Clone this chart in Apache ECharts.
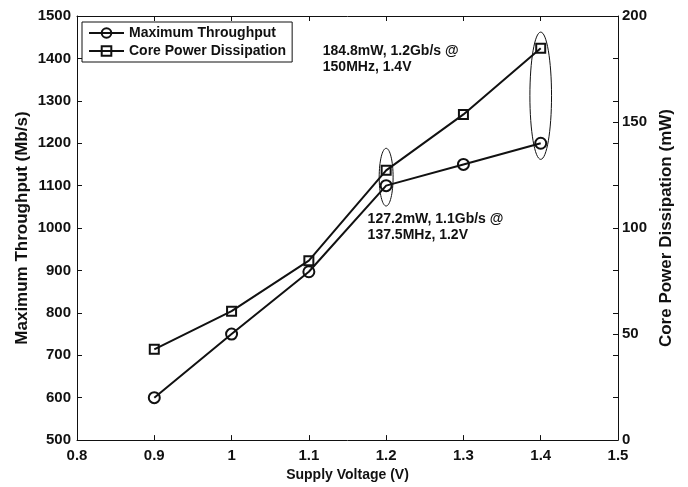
<!DOCTYPE html>
<html>
<head>
<meta charset="utf-8">
<script src="https://cdn.jsdelivr.net/npm/echarts@6/dist/echarts.min.js"></script>
<style>
  html, body { margin: 0; padding: 0; background: #fff; }
  #chart { width: 688px; height: 487px; }
</style>
</head>
<body>
<div id="chart"></div>
<script>
// data
const voltage = [0.9, 1.0, 1.1, 1.2, 1.3, 1.4];
const throughput = [600, 750, 897, 1100, 1150, 1200];   // Mb/s
const corePower = [42.8, 60.8, 84.6, 127.2, 153.6, 184.8]; // mW

// ellipse callouts: [x, centre on left axis, x half-width, y half-height on left axis]
const callouts = [
  [1.2, 1120, 0.009, 68],
  [1.4, 1312, 0.014, 150]
];
// notes: [text, x, top on left axis]
const notes = [
  ['184.8mW, 1.2Gb/s @\n150MHz, 1.4V', 1.118, 1436],
  ['127.2mW, 1.1Gb/s @\n137.5MHz, 1.2V', 1.176, 1040]
];

const FONT = 'Liberation Sans, Arial, sans-serif';
const INK = '#111';

const chart = echarts.init(document.getElementById('chart'));

const labelStyle = { color: INK, fontSize: 15, fontWeight: 'bold', fontFamily: FONT };
const nameStyle = { color: INK, fontSize: 14, fontWeight: 'bold', fontFamily: FONT };
const vNameStyle = { color: INK, fontSize: 17, fontWeight: 'bold', fontFamily: FONT };
const lineAx = { show: true, lineStyle: { color: INK, width: 1 } };
const tickIn = { show: true, inside: true, length: 5, lineStyle: { color: INK } };
const plain = v => String(v);

const option = {
  animation: false,
  backgroundColor: '#fff',
  grid: { left: 77, right: 70, top: 16, bottom: 45, containLabel: false },
  legend: {
    left: 82, top: 22, orient: 'vertical',
    padding: [4, 6, 4, 6],
    itemWidth: 35, itemHeight: 12, itemGap: 4,
    borderColor: INK, borderWidth: 1,
    backgroundColor: '#fff',
    textStyle: { color: INK, fontSize: 14, fontWeight: 'bold', fontFamily: FONT },
    data: ['Maximum Throughput', 'Core Power Dissipation']
  },
  xAxis: [
    {
      type: 'value', min: 0.8, max: 1.5, interval: 0.1,
      name: 'Supply Voltage (V)', nameLocation: 'middle', nameGap: 21,
      nameTextStyle: nameStyle,
      axisLine: lineAx, axisTick: tickIn,
      axisLabel: Object.assign({ margin: 8, formatter: plain }, labelStyle),
      splitLine: { show: false }
    },
    {
      type: 'value', position: 'top', min: 0.8, max: 1.5, interval: 0.1,
      axisLine: lineAx, axisTick: tickIn,
      axisLabel: { show: false }, splitLine: { show: false }
    }
  ],
  yAxis: [
    {
      type: 'value', min: 500, max: 1500, interval: 100, position: 'left',
      name: 'Maximum Throughput (Mb/s)', nameLocation: 'middle', nameGap: 46,
      nameMoveOverlap: false,
      nameTextStyle: vNameStyle,
      axisLine: lineAx, axisTick: tickIn,
      axisLabel: Object.assign({ margin: 6, formatter: plain }, labelStyle),
      splitLine: { show: false }
    },
    {
      type: 'value', min: 0, max: 200, interval: 50, position: 'right',
      name: 'Core Power Dissipation (mW)', nameLocation: 'middle', nameGap: 38,
      nameTextStyle: vNameStyle, nameRotate: 90,
      axisLine: lineAx, axisTick: tickIn,
      axisLabel: Object.assign({ margin: 4, formatter: plain }, labelStyle),
      splitLine: { show: false }
    },
    {
      // left-axis ticks mirrored on the right edge
      type: 'value', min: 500, max: 1500, interval: 100, position: 'right',
      axisLine: { show: false }, axisTick: tickIn,
      axisLabel: { show: false }, splitLine: { show: false }
    }
  ],
  series: [
    {
      name: 'Maximum Throughput', type: 'line', yAxisIndex: 0,
      data: voltage.map((v, i) => [v, throughput[i]]),
      symbol: 'circle', symbolSize: 11,
      lineStyle: { color: INK, width: 2 },
      itemStyle: { color: 'rgba(255,255,255,0)', borderColor: INK, borderWidth: 2 }
    },
    {
      name: 'Core Power Dissipation', type: 'line', yAxisIndex: 1,
      data: voltage.map((v, i) => [v, corePower[i]]),
      symbol: 'rect', symbolSize: 9,
      lineStyle: { color: INK, width: 2 },
      itemStyle: { color: 'rgba(255,255,255,0)', borderColor: INK, borderWidth: 2 }
    }
  ]
};

chart.setOption(option);

// callout ellipses and notes, placed from data coordinates
const px = (x, y) => chart.convertToPixel({ xAxisIndex: 0, yAxisIndex: 0 }, [x, y]);
const graphics = callouts.map(([x, y, dx, dy]) => {
  const c = px(x, y);
  const e = px(x + dx, y + dy);
  return {
    type: 'ellipse', silent: true, z: 5,
    shape: { cx: c[0], cy: c[1], rx: e[0] - c[0], ry: c[1] - e[1] },
    style: { fill: 'none', stroke: INK, lineWidth: 1 }
  };
});
notes.forEach(([t, x, y]) => {
  const p = px(x, y);
  graphics.push({
    type: 'text', silent: true, z: 6, x: p[0], y: p[1],
    style: { text: t, fill: INK, font: 'bold 14px ' + FONT, lineHeight: 16 }
  });
});
chart.setOption({ graphic: graphics });

window.addEventListener('resize', () => chart.resize());
</script>
</body>
</html>
